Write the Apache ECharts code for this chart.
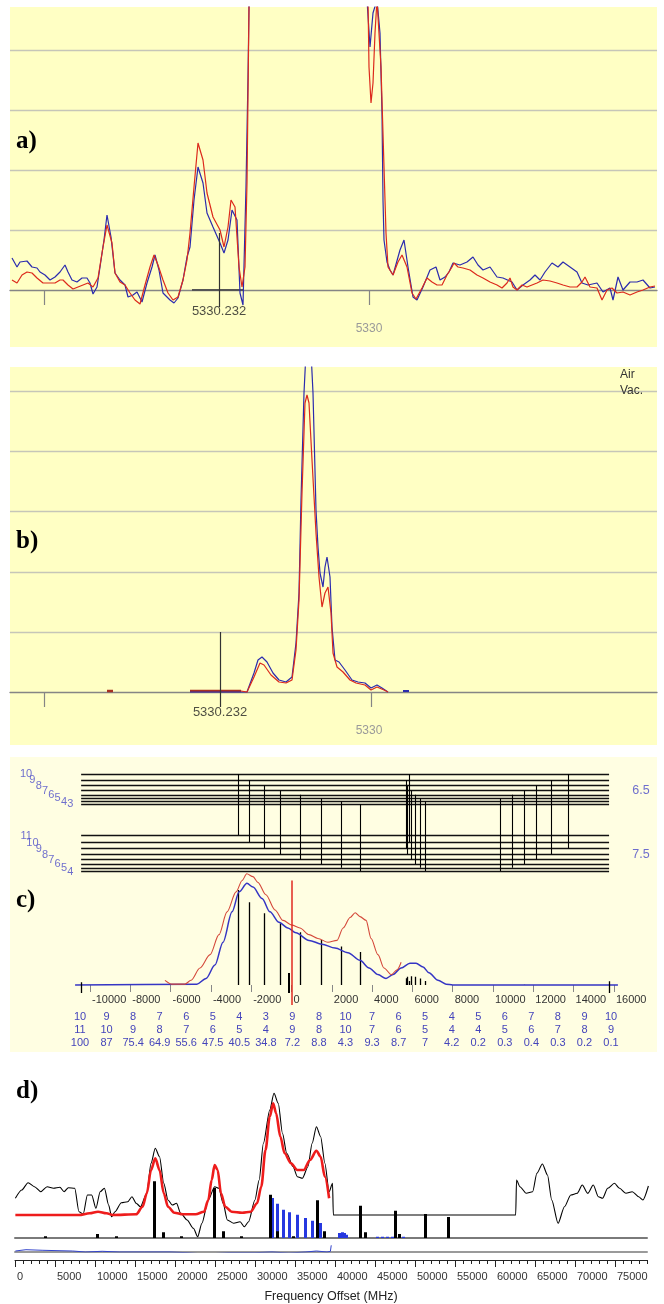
<!DOCTYPE html>
<html>
<head>
<meta charset="utf-8">
<script src="https://cdn.jsdelivr.net/npm/echarts@6/dist/echarts.min.js"></script>
<style>
html,body{margin:0;padding:0;background:#fff}
#chart{width:664px;height:1304px}
</style>
</head>
<body>
<div id="chart"></div>
<script>
// ---- panel a: [channel, intensity] ----
var aBlue = [[12,32],[17,23],[20,28],[27,29],[32,23],[37,22],[40,18],[45,15],[50,10],[55,13],[60,18],[65,25],[68,18],[72,10],[77,8],[82,12],[87,12],[90,7],[93,-4],[97,3],[100,23],[104,50],[107,75],[111,53],[115,17],[120,10],[125,5],[128,-7],[133,-5],[137,-2],[142,-12],[147,7],[152,23],[155,35],[159,20],[163,-3],[170,-10],[174,-13],[178,-8],[183,10],[187,33],[190,43],[194,90],[198,123],[203,107],[207,77],[213,63],[220,47],[224,37],[228,50],[232,80],[237,70],[240,-3],[243,-15],[246,103],[248,213],[249,283],[252,600],[364,600],[367,290],[370,243],[373,277],[377,290],[380,257],[382,177],[383,90],[384,50],[387,28],[390,20],[393,15],[400,40],[404,50],[408,23],[413,-7],[417,-10],[423,3],[430,20],[436,23],[440,10],[445,13],[449,18],[453,27],[460,25],[467,28],[473,33],[478,25],[483,20],[490,23],[497,13],[503,12],[512,8],[517,0],[523,5],[530,10],[535,15],[540,10],[545,18],[552,27],[558,23],[563,28],[570,23],[577,18],[582,7],[588,5],[597,7],[603,-2],[610,2],[613,-10],[618,13],[623,0],[630,8],[637,8],[643,10],[650,2],[655,3]];
var aRed = [[12,10],[17,7],[22,15],[27,18],[32,17],[37,12],[43,7],[50,7],[55,7],[60,10],[63,10],[68,5],[73,1],[78,3],[83,5],[88,7],[93,3],[98,12],[103,43],[107,65],[112,47],[115,17],[120,8],[125,5],[130,-3],[135,-10],[140,-14],[145,5],[150,23],[154,35],[158,25],[163,10],[168,-3],[173,-10],[178,-7],[183,10],[187,30],[190,57],[194,103],[198,147],[203,130],[207,97],[213,73],[220,60],[224,43],[228,63],[231,90],[235,83],[239,23],[242,3],[245,23],[247,107],[249,283],[250,600],[365,600],[368,290],[369,223],[371,187],[373,207],[375,257],[377,290],[381,223],[384,123],[386,57],[388,23],[393,15],[398,28],[402,35],[407,23],[412,-3],[416,-9],[422,2],[427,12],[432,8],[437,5],[442,5],[447,15],[452,23],[454,27],[458,23],[463,22],[470,20],[477,15],[483,12],[490,8],[497,5],[502,2],[507,7],[510,12],[513,3],[517,0],[522,5],[527,3],[532,5],[537,7],[543,10],[550,9],[557,7],[563,5],[570,3],[577,3],[582,8],[585,13],[590,3],[597,2],[602,-10],[607,0],[612,2],[617,-3],[623,-2],[630,-5],[637,-2],[643,0],[650,3],[655,4]];
var aGridValues = [60, 120, 180, 240];

// ---- panel b ----
var bBlue = [[190,0],[241,0],[247,0],[254,19],[258,32],[262,35],[267,30],[273,19],[279,12],[286,10],[292,15],[296,49],[299,99],[301,192],[304,299],[306,340],[308,400],[310,400],[311,340],[313,299],[316,182],[318,145],[320,119],[323,105],[325,125],[327,135],[330,115],[332,65],[335,32],[339,30],[345,22],[352,12],[358,10],[365,9],[371,4],[377,7],[382,4],[388,0]];
var bRed = [[241,1],[247,0],[254,15],[260,29],[264,27],[271,17],[279,10],[286,9],[292,12],[296,42],[299,92],[302,199],[305,289],[307,297],[309,289],[312,232],[316,159],[319,115],[322,85],[325,99],[328,105],[331,79],[333,39],[337,25],[343,20],[350,12],[356,9],[365,7],[371,2],[377,5],[384,2],[388,0]];
var bRedBits = [[107,1],[113,1],[110,null],[190,1],[241,1]];
var bBlueBits = [[403,1],[409,1]];
var bGridValues = [60, 120, 181, 241, 301];

// ---- panel c: hyperfine levels and spectrum ----
var upperF = [10, 9, 8, 7, 6, 5, 4, 3];
var upperE = [97, 91, 85.5, 80.5, 76.2, 72.6, 69.5, 67.1];
var lowerF = [11, 10, 9, 8, 7, 6, 5, 4];
var lowerE = [36, 28.9, 22.5, 16.7, 11.6, 7.1, 3.2, 0];
var rowUpper = [10,9,8,7,6,5,4,3,9,8,10,7,6,5,4,5,6,7,8,9,10];
var rowLower = [11,10,9,8,7,6,5,4,9,8,10,7,6,5,4,4,5,6,7,8,9];
var rowInt = [100,87,75.4,64.9,55.6,47.5,40.5,34.8,7.2,8.8,4.3,9.3,8.7,7,4.2,0.2,0.3,0.4,0.3,0.2,0.1];
var transFreq = [-2655,-2109,-1365,-571,422,1464,2457,3400,5700,5760,5860,5950,6150,6400,6650,10347,10943,11538,12134,12878,13722];
var cRed = [[-6280,5],[-5930,1],[-5290,1],[-4990,5],[-4540,18],[-4040,32],[-3600,53],[-3200,77],[-2750,98],[-2450,110],[-2220,117],[-1910,114],[-1670,108],[-1270,95],[-820,79],[-420,68],[20,63],[420,60],[870,53],[1310,49],[1810,45],[2260,47],[2560,60],[2910,71],[3160,76],[3400,72],[3700,68],[3950,49],[4290,32],[4590,18],[4950,11],[5240,16],[5440,24]];
var cBlue = [[-10740,0],[-4690,1],[-4240,7],[-3800,21],[-3400,45],[-2950,77],[-2600,98],[-2210,107],[-1910,103],[-1460,91],[-1070,77],[-620,66],[-180,60],[220,55],[870,47],[1510,43],[2160,39],[2800,34],[3400,26],[3850,18],[4290,11],[4690,7],[5040,11],[5440,18],[5880,23],[6180,23],[6530,19],[6820,13],[7270,5],[7670,1],[8000,0],[16200,0]];
var cTicks = [-10000,-8000,-6000,-4000,-2000,0,2000,4000,6000,8000,10000,12000,14000,16000];

// ---- panel d: frequency offset (MHz) ----
var dObs = [[45,16.7],[840,25],[1635,32.3],[2430,28.3],[3225,23.3],[4020,28.3],[4815,26.7],[5610,27.7],[6140,23.3],[6670,27.3],[7465,26.7],[7995,3.3],[8525,1],[9055,20],[9585,20],[10115,6.7],[10645,23.3],[11175,26.7],[11705,10],[12076,-1.7],[12500,3.3],[13295,12.3],[14090,13.3],[14620,18.3],[15150,11.7],[15680,8.3],[16475,21.7],[17005,51.7],[17535,66.7],[18065,58.3],[18595,31.7],[19125,15],[19655,10],[20185,11.7],[20715,1.7],[21510,-5],[22305,-13.3],[22835,-21.7],[23365,-8.3],[24160,15],[24955,28.3],[25485,26.7],[26015,11.7],[26545,-5],[27340,-8.3],[28135,-6.7],[28665,-11.7],[29195,-6.7],[29990,15],[30520,35],[31050,71.7],[31845,105],[32375,121.7],[32905,111.7],[33435,81.7],[33965,61.7],[34760,48.3],[35290,38.3],[35926,36.7],[36615,48.3],[37145,71.7],[37675,88.3],[38205,78.3],[38735,51.7],[39265,23.3],[39689,31.7],[39795,0],[62585,0],[62691,35],[63115,28.3],[63910,21.7],[64705,23.3],[65235,41.7],[65924,51],[66560,40],[67090,15],[67885,-8.3],[68680,8.3],[69475,20],[70270,21.7],[70906,30],[71595,21.7],[72284,30],[72920,18.3],[73450,16.7],[74086,26.7],[74934,31.7],[75570,26.7],[76365,21.7],[77160,23.3],[77955,18.3],[78485,15],[79174,29]];
var dFit = [[45,0],[7995,0],[9320,1.7],[10380,3.3],[11440,1.7],[12235,0],[15150,0.7],[15945,8.3],[16475,21.7],[17005,45],[17535,56.7],[18065,45],[18595,21.7],[19125,8.3],[19920,2.3],[20980,0.7],[22570,0.7],[23630,3.3],[24160,15],[24584,35],[24955,50],[25326,45],[25750,21.7],[26280,8.3],[27075,3.3],[28400,2.3],[29460,3.3],[30255,11.7],[30785,28.3],[31315,65],[31845,98.3],[32269,111.7],[32640,101.7],[33170,78.3],[33700,61.7],[34495,51.7],[35290,45],[36085,45],[36880,55],[37675,64.3],[38205,58.3],[38735,38.3],[39265,16.7]];
var dBlackSticks = [[3755,1.7],[10274,4],[12606,1.7],[17376,56.7],[18489,5.7],[20821,1.7],[24955,50],[26015,6.7],[28241,1.7],[31845,43.3],[32746,6.7],[34760,1.7],[37834,37.7],[38629,6.7],[43134,32.3],[43770,5.7],[47586,27.3],[48010,4],[51296,24],[54105,21]];
var dBlueSticks = [[32110,40],[32746,34.3],[33541,28.3],[34336,25.7],[35290,23.3],[36244,20],[37145,17.3],[38205,15],[40590,5],[40855,5.7],[41120,5],[41385,3.3],[45254,1.3],[45890,1.3],[46526,1.3],[47215,1.3],[48540,1.3]];
var dResid = [[45,1],[1370,2.3],[3490,1.7],[7200,1],[8790,0],[10910,0.7],[13030,0],[16210,0],[19390,0],[21510,-0.7],[23100,-1.7],[24690,-1.7],[26810,-0.7],[29990,-0.7],[32110,0],[34230,-1],[36350,0],[37675,1],[39000,0],[39424,0.7],[39530,6.7]];
var dMajorTicks = [0,5000,10000,15000,20000,25000,30000,35000,40000,45000,50000,55000,60000,65000,70000,75000];

var SANS = 'Liberation Sans';
var grids = [], xAxes = [], yAxes = [], series = [];

function addGrid(g, x, y) {
  grids.push(g);
  var gi = grids.length - 1;
  x.gridIndex = gi; y.gridIndex = gi;
  xAxes.push(x); yAxes.push(y);
  return { x: xAxes.length - 1, y: yAxes.length - 1, g: gi };
}
function hidden(min, max) { return { type: 'value', show: false, min: min, max: max }; }
function plain(v) { return String(v); }
function seg(x1, y1, x2, y2) { return { coords: [[x1, y1], [x2, y2]] }; }
function segs(ax, data, color, width, z) {
  return { type: 'lines', coordinateSystem: 'cartesian2d', xAxisIndex: ax.x, yAxisIndex: ax.y,
    data: data, silent: true, z: z || 2, lineStyle: { color: color, width: width, opacity: 1, curveness: 0 } };
}
function curve(ax, data, color, width, z, smooth) {
  return { type: 'line', xAxisIndex: ax.x, yAxisIndex: ax.y, data: data, symbol: 'none', showSymbol: false,
    smooth: smooth || false, smoothMonotone: smooth ? 'x' : undefined, silent: true, z: z || 3,
    lineStyle: { color: color, width: width }, connectNulls: false };
}
function texts(ax, items, style) {
  return { type: 'scatter', xAxisIndex: ax.x, yAxisIndex: ax.y, symbolSize: 1, silent: true, z: 6,
    itemStyle: { color: 'rgba(0,0,0,0)' }, data: items,
    label: Object.assign({ show: true, position: 'inside', formatter: '{b}', fontFamily: SANS }, style) };
}
// axis-only grid whose bottom edge is the baseline of a spectrum
function baselineAxis(top, height, left, width, min, max, xOpt) {
  var x = Object.assign({ type: 'value', min: min, max: max, splitLine: { show: false } }, xOpt);
  return addGrid({ left: left, width: width, top: top, height: height }, x, hidden(0, 1));
}
var abAxis = function (ticks) {
  return {
    axisLine: { show: true, onZero: false, lineStyle: { color: '#858585', width: 1.3 } },
    axisTick: { show: true, customValues: ticks, length: 15, lineStyle: { color: '#858585', width: 1.2 } },
    axisLabel: { show: true, customValues: [369], formatter: function () { return '5330'; }, margin: 33, color: '#9a9a9a', fontSize: 12, fontFamily: SANS }
  };
};

// ---------- panel a ----------
baselineAxis(7, 283, 10, 647, 10, 657, abAxis([44, 369]));
var A = addGrid({ left: 10, top: 7, width: 647, height: 340 }, hidden(10, 657), hidden(-57, 283));
series.push(segs(A, aGridValues.map(function (v) { return seg(10, v, 657, v); }), '#c6c6b8', 1.4, 1));
series.push(segs(A, [seg(192, 0, 243, 0)], '#555', 2, 2));
series.push(curve(A, aBlue, '#2b2bae', 1.2, 3));
series.push(curve(A, aRed, '#dc2a1c', 1.2, 4));
series.push(segs(A, [seg(219, 57, 219, -17)], '#333', 1.2, 5));
series.push(texts(A, [{ name: '5330.232', value: [219, -21] }], { color: '#222', fontSize: 13 }));

// ---------- panel b ----------
baselineAxis(367, 325, 10, 647, 10, 657, abAxis([44, 371]));
var B = addGrid({ left: 10, top: 367, width: 647, height: 378 }, hidden(10, 657), hidden(-53, 325));
series.push(segs(B, bGridValues.map(function (v) { return seg(10, v, 657, v); }), '#c6c6b8', 1.4, 1));
series.push(curve(B, bRedBits, '#a83020', 2.5, 3));
series.push(curve(B, bBlueBits, '#2b2bae', 2, 3));
series.push(curve(B, bBlue, '#2b2bae', 1.2, 3));
series.push(curve(B, bRed, '#dc2a1c', 1.2, 4));
series.push(segs(B, [seg(220, 60, 220, -15)], '#333', 1.2, 5));
series.push(texts(B, [{ name: '5330.232', value: [220, -20] }], { color: '#222', fontSize: 13 }));

// ---------- panel c ----------
var cZeroPx = 291.5, cPxPerMHz = 0.02015;
var cMin = (20 - cZeroPx) / cPxPerMHz, cMax = (656 - cZeroPx) / cPxPerMHz;
var levelStart = -10440, levelEnd = 15760;

var CL = addGrid({ left: 20, width: 636, top: 770, height: 107 }, hidden(cMin, cMax), hidden(-6, 101));
var levelSegs = [];
upperE.forEach(function (e) { levelSegs.push(seg(levelStart, e, levelEnd, e)); });
lowerE.forEach(function (e) { levelSegs.push(seg(levelStart, e, levelEnd, e)); });
series.push(segs(CL, levelSegs, '#111', 1.3, 2));
var transSegs = transFreq.map(function (f, i) {
  return seg(f, upperE[upperF.indexOf(rowUpper[i])], f, lowerE[lowerF.indexOf(rowLower[i])]);
});
series.push(segs(CL, transSegs, '#000', 1.1, 3));
var labX0 = -13170, labStep = 313;
var levelLabels = [];
upperF.forEach(function (F, i) { levelLabels.push({ name: String(F), value: [labX0 + i * labStep, upperE[i]] }); });
lowerF.forEach(function (F, i) { levelLabels.push({ name: String(F), value: [labX0 + i * labStep, lowerE[i] - 0.5] }); });
series.push(texts(CL, levelLabels, { color: '#4a4ac8', fontSize: 11 }));
series.push(texts(CL, [{ name: '6.5', value: [17345, 80] }, { name: '7.5', value: [17345, 16] }], { color: '#4a4ac8', fontSize: 12.5 }));

baselineAxis(870, 115, 20, 636, cMin, cMax, {
  axisLine: { show: false },
  axisTick: { show: true, customValues: cTicks, length: 7, lineStyle: { color: '#888' } },
  axisLabel: { show: true, customValues: cTicks, formatter: plain, align: 'left', padding: [0, 0, 0, 2], margin: 9, color: '#333', fontSize: 11, fontFamily: SANS }
});
var CS = addGrid({ left: 20, width: 636, top: 870, height: 136 }, hidden(cMin, cMax), hidden(-22, 121));
series.push(segs(CS, transFreq.map(function (f, i) { return seg(f, 0, f, rowInt[i]); }), '#000', 1.3, 2));
series.push(curve(CS, cBlue, '#3535c4', 1.5, 3, 0.3));
series.push(curve(CS, cRed, '#d4483a', 1.1, 4, 0.3));
series.push(segs(CS, [seg(0, 110, 0, -21)], '#e02a20', 1.5, 5));
series.push(segs(CS, [seg(-120, 12.6, -120, -8.4)], '#000', 2, 5));
series.push(segs(CS, [seg(levelStart, 3, levelStart, -8.4), seg(levelEnd, 4, levelEnd, -8.4)], '#000', 1.3, 5));

var CT = addGrid({ left: 80, width: 531, top: 990, height: 15 },
  { type: 'category', data: rowUpper.map(function (v, i) { return String(i); }), boundaryGap: false, position: 'bottom', offset: 0,
    axisLine: { show: false }, axisTick: { show: false },
    axisLabel: { interval: 0, margin: 6, color: '#4444bb', fontSize: 11, fontFamily: SANS, formatter: function (v, i) { return String(rowUpper[i]); } } },
  hidden(0, 1));
[rowLower, rowInt].forEach(function (row, k) {
  xAxes.push({ type: 'category', gridIndex: CT.g, data: row.map(function (v, i) { return String(i); }), boundaryGap: false, position: 'bottom', offset: 13 * (k + 1),
    axisLine: { show: false }, axisTick: { show: false },
    axisLabel: { interval: 0, margin: 6, color: '#4444bb', fontSize: 11, fontFamily: SANS, formatter: function (v, i) { return String(row[i]); } } });
});

// ---------- panel d ----------
var dMax = 79000;
var D1 = addGrid({ left: 15, width: 632, top: 1085, height: 160 }, hidden(0, dMax), hidden(-30, 130));
series.push(curve(D1, dObs, '#000', 1.1, 3, 0.25));
series.push(curve(D1, dFit, '#ee1c1c', 2.6, 4, 0.3));

var D2 = addGrid({ left: 15, width: 632, top: 1178, height: 60 },
  { type: 'value', min: 0, max: dMax, axisLine: { show: true, lineStyle: { color: '#7a7a7a', width: 2 } }, axisTick: { show: false }, axisLabel: { show: false }, splitLine: { show: false } },
  hidden(0, 60));
series.push(segs(D2, dBlueSticks.map(function (p) { return seg(p[0], 0, p[0], p[1]); }), '#2638e0', 3, 3));
series.push(segs(D2, dBlackSticks.map(function (p) { return seg(p[0], 0, p[0], p[1]); }), '#000', 3, 4));

var D3 = addGrid({ left: 15, width: 632, top: 1242, height: 10 },
  { type: 'value', min: 0, max: dMax, axisLine: { show: true, lineStyle: { color: '#9a9a9a', width: 2 } }, axisTick: { show: false }, axisLabel: { show: false }, splitLine: { show: false } },
  hidden(0, 10));
series.push(curve(D3, dResid, '#3344cc', 1, 4));

var D4 = baselineAxis(1250, 17, 15, 632, 0, dMax, {
  position: 'bottom',
  axisLine: { show: true, onZero: false, lineStyle: { color: '#222', width: 1 } },
  axisTick: { show: true, customValues: dMajorTicks, length: 7, lineStyle: { color: '#222' } },
  axisLabel: { show: true, customValues: dMajorTicks, formatter: plain, align: 'left', padding: [0, 0, 0, 2], margin: 11, color: '#333', fontSize: 11, fontFamily: SANS },
  name: 'Frequency Offset (MHz)', nameLocation: 'middle', nameGap: 30,
  nameTextStyle: { color: '#222', fontSize: 12.5, fontFamily: SANS }
});
xAxes.push({ type: 'value', gridIndex: D4.g, min: 0, max: dMax, interval: 1000, position: 'bottom',
  axisLine: { show: false, onZero: false }, axisTick: { show: true, length: 4, lineStyle: { color: '#222' } },
  axisLabel: { show: false }, splitLine: { show: false } });

// ---------- backgrounds and panel letters ----------
var letterFont = 'bold 25px "Liberation Serif"';
var graphic = [
  { type: 'rect', z: -100, shape: { x: 10, y: 7, width: 647, height: 340 }, style: { fill: '#ffffc4' } },
  { type: 'rect', z: -100, shape: { x: 10, y: 367, width: 647, height: 378 }, style: { fill: '#ffffc4' } },
  { type: 'rect', z: -100, shape: { x: 10, y: 757, width: 647, height: 295 }, style: { fill: '#fffee2' } },
  { type: 'text', left: 16, top: 129, z: 50, style: { text: 'a)', font: letterFont, fill: '#000' } },
  { type: 'text', left: 16, top: 529, z: 50, style: { text: 'b)', font: letterFont, fill: '#000' } },
  { type: 'text', left: 16, top: 888, z: 50, style: { text: 'c)', font: letterFont, fill: '#000' } },
  { type: 'text', left: 16, top: 1079, z: 50, style: { text: 'd)', font: letterFont, fill: '#000' } },
  { type: 'text', left: 620, top: 369, z: 50, style: { text: 'Air', font: '12px ' + SANS, fill: '#333' } },
  { type: 'text', left: 620, top: 385, z: 50, style: { text: 'Vac.', font: '12px ' + SANS, fill: '#333' } }
];

var chart = echarts.init(document.getElementById('chart'));
chart.setOption({
  animation: false,
  backgroundColor: '#fff',
  graphic: graphic,
  grid: grids,
  xAxis: xAxes,
  yAxis: yAxes,
  series: series
});
</script>
</body>
</html>
